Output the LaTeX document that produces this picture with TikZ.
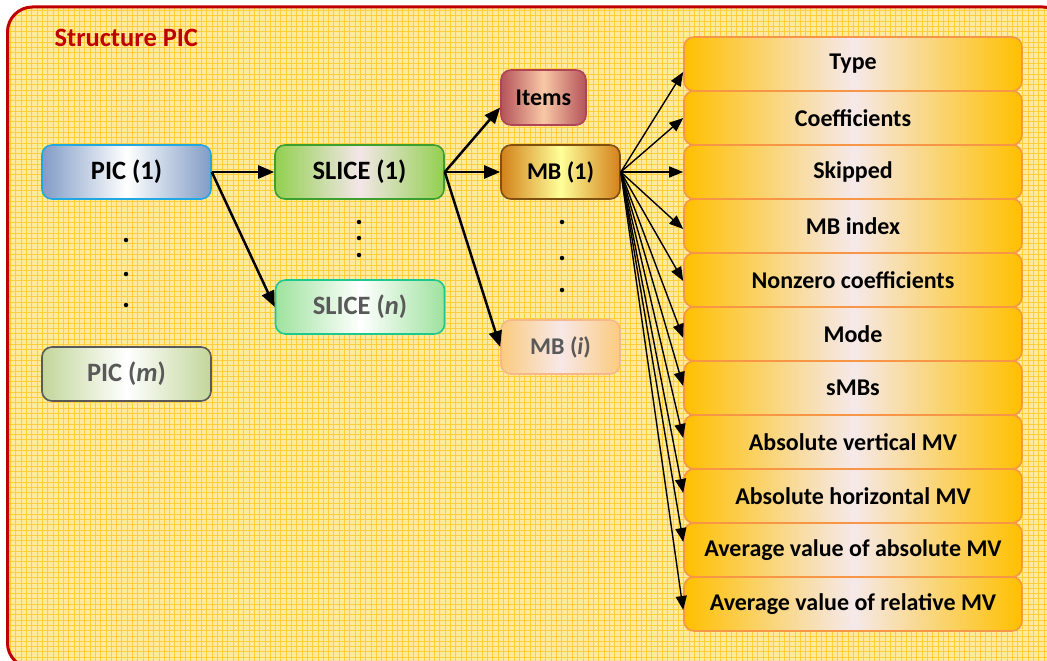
\documentclass[tikz,border=0pt]{standalone}
\usepackage{fontspec}
\setmainfont{Carlito}
\usetikzlibrary{arrows.meta}

\definecolor{framered}{HTML}{C00000}
\definecolor{paper}{HTML}{FFEA9E}
\definecolor{gridline}{HTML}{FFCE3A}
\definecolor{picedge}{HTML}{819CC6}
\definecolor{picborder}{HTML}{22A8E0}
\definecolor{pmedge}{HTML}{C3D69B}
\definecolor{greytext}{HTML}{595959}
\definecolor{sledge}{HTML}{92D050}
\definecolor{slmid}{HTML}{F4E6E8}
\definecolor{slborder}{HTML}{3DA02E}
\definecolor{snedge}{HTML}{9EE29E}
\definecolor{snborder}{HTML}{1DC98E}
\definecolor{itedge}{HTML}{B5535A}
\definecolor{itmid}{HTML}{F8C8A6}
\definecolor{itborder}{HTML}{B04456}
\definecolor{mbedge}{HTML}{D3811A}
\definecolor{mbmid}{HTML}{FFFF99}
\definecolor{mbborder}{HTML}{7F5010}
\definecolor{miedge}{HTML}{FBCB7E}
\definecolor{mimid}{HTML}{F7E8E8}
\definecolor{miborder}{HTML}{F6B88A}
\definecolor{fdedge}{HTML}{FFC000}
\definecolor{fdmid}{HTML}{F5E9EB}
\definecolor{fdborder}{HTML}{F79646}

\tikzset{
  box/.style={rounded corners=10pt, line width=1.6pt, inner sep=0pt, align=center},
  bigtext/.style={font=\fontsize{26.5}{31}\selectfont\bfseries},
  smalltext/.style={font=\fontsize{24}{28}\selectfont\bfseries},
  picbox/.style={box, bigtext, minimum width=169pt, minimum height=54pt},
  mbbox/.style={box, smalltext, minimum width=119pt, minimum height=54pt},
  field/.style={box, smalltext, minimum width=338pt, minimum height=54pt,
    draw=fdborder, left color=fdedge, right color=fdedge, middle color=fdmid},
  thick/.style={line width=2.5pt, -{Triangle[length=16pt,width=13pt]}},
  thin/.style={line width=1.4pt, -{Triangle[length=14pt,width=11pt]}},
  dot/.style={fill=black, circle, inner sep=0pt, minimum size=4.5pt}
}

\begin{document}
\begin{tikzpicture}[x=1pt,y=-1pt]
\useasboundingbox (0,0) rectangle (1047,661);

% squared paper inside the frame
\begin{scope}
  \clip[rounded corners=25pt] (7.5,7) rectangle (1068,668);
  \fill[paper] (0,0) rectangle (1070,670);
  \foreach \i in {0,...,202} \draw[gridline, line width=1pt] (\i*5.3,0) -- (\i*5.3,670);
  \foreach \j in {0,...,127} \draw[gridline, line width=1pt] (0,\j*5.3) -- (1070,\j*5.3);
\end{scope}
\draw[framered, line width=3pt, rounded corners=25pt] (7.5,7) rectangle (1068,668);

\node[anchor=west, text=framered, bigtext] (title) at (51,38) {Structure PIC};

% pictures
\node[picbox, draw=picborder, left color=picedge, right color=picedge, middle color=white] (pic1) at (126.5,172) {PIC (1)};
\node[picbox, draw=greytext, text=greytext, left color=pmedge, right color=pmedge, middle color=white] (picm) at (126.5,374) {PIC (\textit{m})};
\node[dot] (pd1) at (126,240) {};
\node[dot] (pd2) at (126,274) {};
\node[dot] (pd3) at (126,305) {};

% slices
\node[picbox, draw=slborder, left color=sledge, right color=sledge, middle color=slmid] (slice1) at (359.5,172) {SLICE (1)};
\node[picbox, draw=snborder, text=greytext, left color=snedge, right color=snedge, middle color=white] (slicen) at (360,307) {SLICE (\textit{n})};
\node[dot] (sd1) at (359,222) {};
\node[dot] (sd2) at (359,238) {};
\node[dot] (sd3) at (359,255) {};

% items and macroblocks
\node[box, smalltext, minimum width=85pt, minimum height=55pt, draw=itborder, left color=itedge, right color=itedge, middle color=itmid] (items) at (543.5,97.5) {Items};
\node[mbbox, draw=mbborder, left color=mbedge, right color=mbedge, middle color=mbmid] (mb1) at (560.5,172) {MB (1)};
\node[mbbox, draw=miborder, text=greytext, left color=miedge, right color=miedge, middle color=mimid] (mbi) at (560.5,347) {MB (\textit{i})};
\node[dot] (md1) at (562,222) {};
\node[dot] (md2) at (562,258) {};
\node[dot] (md3) at (562,290) {};

% macroblock fields
\node[field] (f1)  at (853,64)  {Type};
\node[field] (f2)  at (853,118) {Coefficients};
\node[field] (f3)  at (853,172) {Skipped};
\node[field] (f4)  at (853,226) {MB index};
\node[field] (f5)  at (853,280) {Nonzero coefficients};
\node[field] (f6)  at (853,334) {Mode};
\node[field] (f7)  at (853,388) {sMBs};
\node[field] (f8)  at (853,442) {Absolute vertical MV};
\node[field] (f9)  at (853,496) {Absolute horizontal MV};
\node[field] (f10) at (853,550) {Average value of absolute MV};
\node[field] (f11) at (853,604) {Average value of relative MV};

% connectors
\draw[thick] (pic1.east) -- (slice1.west);
\draw[thick] (pic1.east) -- (slicen.west);
\draw[thick] (slice1.east) -- ([yshift=-10pt]items.west);
\draw[thick] (slice1.east) -- (mb1.west);
\draw[thick] (slice1.east) -- (mbi.west);
\foreach \n/\d in {f1/-8, f2/0, f3/0, f4/-3, f5/-1, f6/-4, f7/2, f8/4, f9/3, f10/8, f11/-6}
  \draw[thin] (mb1.east) -- ([yshift=\d pt]\n.west);
\end{tikzpicture}
\end{document}
